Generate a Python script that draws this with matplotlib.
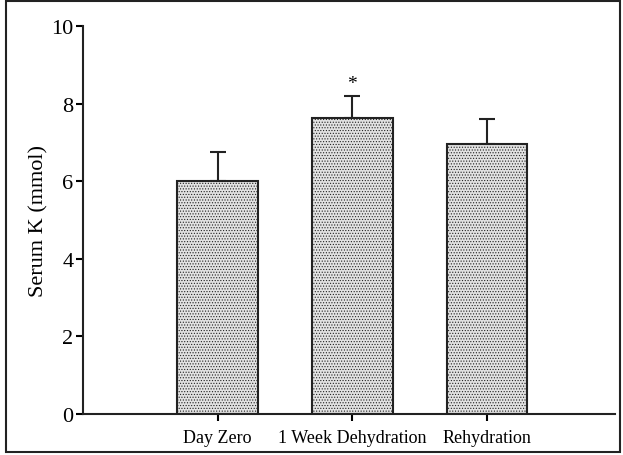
import matplotlib
matplotlib.use("Agg")
import matplotlib.pyplot as plt
from matplotlib.patches import Rectangle

# Values
groups = ["Day Zero", "1 Week Dehydration", "Rehydration"]
means = [6.0, 7.62, 6.95]
errors = [0.75, 0.58, 0.66]
marks = ["", "*", ""]

plt.rcParams['font.family'] = ['Liberation Serif', 'DejaVu Serif']
plt.rcParams['hatch.color'] = '#9a9a9a'
plt.rcParams['hatch.linewidth'] = 0.5

fig = plt.figure(figsize=(6.23, 4.56), dpi=100)
ax = fig.add_axes([0.1332, 0.0899, 0.8539, 0.851])

# outer frame around the whole figure
fig.patches.append(Rectangle((6 / 623, 3 / 456), 614 / 623, 451 / 456,
                             transform=fig.transFigure, fill=False,
                             edgecolor='#222222', linewidth=1.5))

x = list(range(len(groups)))
ax.bar(x, means, width=0.6, color='#e2e2e2', edgecolor='#222222',
       linewidth=1.5, hatch='......', zorder=2)
ax.errorbar(x, means, yerr=[[0] * len(errors), errors], fmt='none',
            ecolor='#222222', elinewidth=1.5, capsize=5.5, capthick=1.5,
            zorder=1)
for xi, m, e, s in zip(x, means, errors, marks):
    if s:
        ax.text(xi, m + e + 0.1, s, ha='center', va='bottom', fontsize=14)

ax.set_xlim(-1.0, 2.95)
ax.set_ylim(0, 10)
ax.set_yticks([0, 2, 4, 6, 8, 10])
ax.set_xticks(x)
ax.set_xticklabels(groups, fontsize=13)
ax.tick_params(axis='y', labelsize=16, length=5, width=1.5, pad=2)
ax.tick_params(axis='x', length=5, width=1.5, pad=6)
ax.set_ylabel("Serum K (mmol)", fontsize=16, labelpad=2)

for side in ['top', 'right']:
    ax.spines[side].set_visible(False)
for side in ['left', 'bottom']:
    ax.spines[side].set_linewidth(1.5)
    ax.spines[side].set_color('#222222')

fig.savefig("out.png", dpi=100)
